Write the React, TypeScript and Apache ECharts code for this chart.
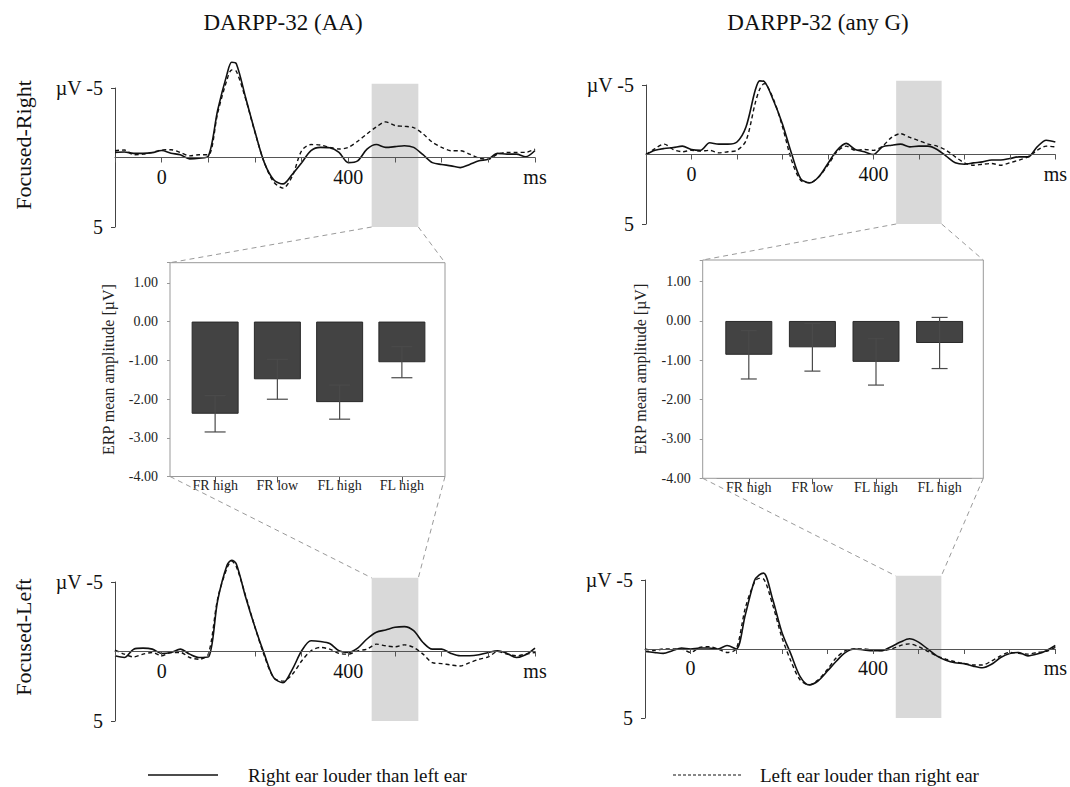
import React, { useEffect, useRef } from 'react';
import * as echarts from 'echarts';

const SERIF = "'Liberation Serif', 'Times New Roman', serif";

// time points (ms)
const TIME = [-100, -80, -60, -40, -20, 0, 20, 40, 60, 80, 100, 120, 140, 150, 160, 180, 200, 220, 240, 260, 280, 300, 320, 340, 360, 380, 400, 420, 440, 460, 480, 500, 520, 540, 560, 580, 600, 620, 640, 660, 680, 700, 720, 740, 760, 780, 800];

// DARPP-32 (AA), Focused-Right
const AA_FR_RIGHT_LOUDER = [-0.37, -0.4, -0.3, -0.3, -0.35, -0.5, -0.3, -0.2, 0.1, 0.05, -0.1, -3.4, -6.0, -6.85, -6.75, -4.3, -1.85, 0.37, 1.6, 1.9, 1.2, 0.37, -0.5, -0.73, -0.7, -0.37, 0.37, 0.24, -0.6, -0.93, -0.73, -0.78, -0.85, -0.73, -0.2, 0.37, 0.5, 0.6, 0.73, 0.5, 0.24, 0.12, -0.3, -0.24, -0.24, -0.05, -0.5];
const AA_FR_LEFT_LOUDER = [-0.49, -0.54, -0.2, -0.24, -0.37, -0.54, -0.56, -0.37, -0.12, -0.2, -0.2, -3.2, -5.6, -6.3, -6.2, -4.2, -1.8, 0.37, 1.76, 2.2, 1.34, -0.49, -0.93, -0.9, -0.73, -0.61, -0.73, -1.17, -1.7, -2.2, -2.56, -2.3, -2.24, -2.15, -1.7, -1.1, -0.73, -0.49, -0.49, -0.24, 0.05, 0.12, -0.24, -0.37, -0.37, -0.37, -0.61];

// DARPP-32 (any G), Focused-Right
const G_FR_RIGHT_LOUDER = [0, -0.3, -0.43, -0.5, -0.6, -0.36, -0.3, -0.84, -0.75, -0.75, -0.9, -2.0, -4.6, -5.3, -5.25, -3.9, -2.2, -0.07, 1.73, 2.04, 1.6, 0.65, -0.3, -0.8, -0.36, -0.2, 0, -0.55, -0.67, -0.75, -0.55, -0.6, -0.6, -0.36, 0.12, 0.6, 0.7, 0.6, 0.53, 0.4, 0.4, 0.29, 0.17, 0.17, -0.55, -1.03, -0.9];
const G_FR_LEFT_LOUDER = [0, -0.43, -0.75, -0.36, -0.2, -0.3, -0.24, -0.3, -0.12, -0.2, -0.3, -1.0, -3.68, -4.7, -5.1, -4.0, -2.0, 0.41, 1.85, 2.04, 1.6, 0.77, -0.2, -0.6, -0.3, -0.36, -0.3, -0.6, -1.23, -1.5, -1.23, -1.0, -0.75, -0.6, -0.3, 0.17, 0.6, 0.77, 0.7, 0.65, 0.77, 0.6, 0.4, 0.17, -0.3, -0.6, -0.55];

// DARPP-32 (AA), Focused-Left
const AA_FL_RIGHT_LOUDER = [0.31, 0.43, -0.17, -0.24, -0.17, 0.14, 0.07, -0.17, 0.19, 0.43, 0.39, -3.67, -6.2, -6.57, -6.3, -3.9, -1.74, 0.19, 1.88, 2.25, 1.28, -0.05, -0.77, -0.72, -0.58, -0.05, 0.07, -0.24, -0.9, -1.38, -1.55, -1.74, -1.79, -1.5, -0.65, -0.17, -0.17, 0.14, 0.31, 0.31, 0.24, 0.07, -0.05, 0.14, 0.43, 0.24, -0.24];
const AA_FL_LEFT_LOUDER = [-0.1, 0.19, 0.39, 0.19, 0.07, 0.31, 0.07, 0.07, 0.43, 0.56, 0.19, -3.8, -6.0, -6.5, -6.1, -4.0, -1.74, 0.31, 1.88, 2.13, 1.64, 0.68, -0.05, -0.29, -0.17, 0.14, 0.19, -0.05, -0.17, -0.53, -0.41, -0.34, -0.48, -0.29, 0.19, 0.8, 0.87, 0.97, 1.04, 0.8, 0.56, 0.39, 0, 0.19, 0.31, 0.19, 0.07];

// DARPP-32 (any G), Focused-Left
const G_FL_RIGHT_LOUDER = [0.17, 0.25, 0.32, 0.12, -0.07, 0, -0.07, -0.07, 0, -0.25, 0, -2.48, -4.95, -5.35, -5.5, -3.6, -1.24, 0.37, 1.98, 2.6, 2.3, 1.6, 0.87, 0.25, 0, 0.07, 0.12, 0.12, -0.17, -0.5, -0.74, -0.5, 0, 0.5, 0.82, 1.0, 1.06, 1.24, 1.36, 1.11, 0.62, 0.32, 0.25, 0.5, 0.37, 0.12, -0.25];
const G_FL_LEFT_LOUDER = [0, 0.12, 0, 0, 0, 0.25, -0.12, -0.17, 0, 0.25, 0, -2.97, -4.83, -5.12, -5.07, -3.2, -0.87, 0.87, 2.23, 2.6, 2.23, 1.48, 0.62, 0.12, 0, 0, 0.07, 0.12, 0, -0.25, -0.37, -0.17, 0.17, 0.5, 0.74, 0.92, 1.06, 1.16, 1.16, 0.87, 0.5, 0.25, 0.32, 0.37, 0.25, 0.17, -0.12];

// analysis window (ms) and its µV extent
const WINDOW = [450, 550];
const WINDOW_UV = [-5.3, 5];

// bar charts
const BAR_CATS = ['FR high', 'FR low', 'FL high', 'FL high'];
const AA_MEANS = [-2.38, -1.49, -2.08, -1.05];
const AA_ERR = [0.47, 0.515, 0.44, 0.4];
const G_MEANS = [-0.86, -0.67, -1.04, -0.56];
const G_ERR = [0.615, 0.605, 0.59, 0.65];

const TITLES = ['DARPP-32 (AA)', 'DARPP-32 (any G)'];
const ROWS = ['Focused-Right', 'Focused-Left'];
const LEGEND = ['Right ear louder than left ear', 'Left ear louder than right ear'];

export default function App() {
  const ref = useRef<HTMLDivElement>(null);

  useEffect(() => {
    document.body.style.margin = '0';
    const chart = echarts.init(ref.current as HTMLDivElement, null, { renderer: 'svg' });

    const erpGrids = [
      { left: 115, top: 88, width: 420, height: 139 },
      { left: 646, top: 85, width: 420, height: 139 },
      { left: 115, top: 582, width: 420, height: 139 },
      { left: 645, top: 580, width: 421, height: 138 },
    ];
    const barGrids = [
      { left: 184, top: 262.7, width: 249, height: 213.8 },
      { left: 717, top: 260, width: 254.4, height: 218.3 },
    ];
    const barMax = [1.52, 1.55];
    const boxX = [
      [170, 445],
      [702.7, 983.3],
    ];
    const capW = [21, 16];

    const panels = [
      [AA_FR_RIGHT_LOUDER, AA_FR_LEFT_LOUDER],
      [G_FR_RIGHT_LOUDER, G_FR_LEFT_LOUDER],
      [AA_FL_RIGHT_LOUDER, AA_FL_LEFT_LOUDER],
      [G_FL_RIGHT_LOUDER, G_FL_LEFT_LOUDER],
    ];

    const grid: any[] = [];
    const xAxis: any[] = [];
    const yAxis: any[] = [];
    const series: any[] = [];

    erpGrids.forEach((g, i) => {
      grid.push({ ...g, containLabel: false });
      // x axis sits on the 0 µV line (middle of the symmetric -5..5 range)
      xAxis.push({
        type: 'value', gridIndex: i, min: -100, max: 800, interval: 100, z: 5,
        position: 'bottom', offset: -g.height / 2,
        axisLine: { onZero: false, lineStyle: { color: '#555', width: 1 } },
        axisTick: { show: true, length: 5, lineStyle: { color: '#555' } },
        axisLabel: {
          formatter: (v: number) => (v === 0 ? '0' : v === 400 ? '400' : v === 800 ? 'ms' : ''),
          fontSize: 20, color: '#111', fontFamily: SERIF, margin: 9,
        },
        splitLine: { show: false },
      });
      yAxis.push({
        type: 'value', gridIndex: i, inverse: true, min: -5, max: 5, interval: 10,
        axisLine: { show: true, onZero: false, lineStyle: { color: '#444' } },
        axisTick: { show: true, length: 4, lineStyle: { color: '#444' } },
        axisLabel: {
          formatter: (v: number) => (v === -5 ? 'µV -5' : '5'),
          fontSize: 20, color: '#111', fontFamily: SERIF, margin: 12,
        },
        splitLine: { show: false },
      });
      panels[i].forEach((vals, k) => {
        series.push({
          type: 'line', xAxisIndex: i, yAxisIndex: i, silent: true, clip: false,
          data: TIME.map((t, j) => [t, vals[j]]),
          smooth: 0.3, showSymbol: false, z: 3,
          lineStyle: { color: '#111', width: k === 0 ? 1.6 : 1.4, type: k === 0 ? 'solid' : [4, 3] },
        });
      });
    });

    const barData = [
      [AA_MEANS, AA_ERR],
      [G_MEANS, G_ERR],
    ];
    barGrids.forEach((g, b) => {
      const gi = 4 + b;
      grid.push({ ...g, containLabel: false });
      xAxis.push({
        type: 'category', gridIndex: gi, data: BAR_CATS,
        axisLine: { onZero: false, lineStyle: { color: '#999' } },
        axisTick: { show: true, alignWithLabel: true, length: 6, lineStyle: { color: '#555' } },
        axisLabel: { fontSize: 14, color: '#222', fontFamily: SERIF, margin: 2 },
      });
      yAxis.push({
        type: 'value', gridIndex: gi, min: -4, max: barMax[b], interval: 1, offset: g.left - boxX[b][0],
        name: 'ERP mean amplitude [µV]', nameLocation: 'middle', nameRotate: 90, nameGap: 54,
        nameTextStyle: { fontSize: 16, color: '#222', fontFamily: SERIF },
        axisLine: { show: false },
        axisTick: { show: true, length: 3, lineStyle: { color: '#999' } },
        axisLabel: {
          formatter: (v: number) => (v > 1.01 ? '' : v.toFixed(2)),
          fontSize: 14, color: '#222', fontFamily: SERIF, margin: 12,
        },
        splitLine: { show: false },
      });
      const [means, errs] = barData[b];
      series.push({
        type: 'bar', xAxisIndex: gi, yAxisIndex: gi, data: means, barWidth: 47, silent: true,
        itemStyle: { color: '#434343', borderColor: '#2a2a2a', borderWidth: 1 },
      });
      const cw = capW[b];
      series.push({
        type: 'custom', xAxisIndex: gi, yAxisIndex: gi, silent: true, z: 4,
        data: means.map((m, i) => [i, m - errs[i], m + errs[i]]),
        encode: { x: 0, y: [1, 2] },
        renderItem: (params: any, api: any) => {
          const lo = api.coord([api.value(0), api.value(1)]);
          const hi = api.coord([api.value(0), api.value(2)]);
          const st = { stroke: '#4a4a4a', lineWidth: 1.2 };
          return {
            type: 'group',
            children: [
              { type: 'line', shape: { x1: lo[0], y1: lo[1], x2: hi[0], y2: hi[1] }, style: st },
              { type: 'line', shape: { x1: lo[0] - cw / 2, y1: lo[1], x2: lo[0] + cw / 2, y2: lo[1] }, style: st },
              { type: 'line', shape: { x1: hi[0] - cw / 2, y1: hi[1], x2: hi[0] + cw / 2, y2: hi[1] }, style: st },
            ],
          };
        },
      });
    });

    chart.setOption({
      animation: false,
      backgroundColor: '#ffffff',
      textStyle: { fontFamily: SERIF },
      grid, xAxis, yAxis, series,
    });

    const px = (gi: number, x: any, y: number) =>
      chart.convertToPixel({ xAxisIndex: gi, yAxisIndex: gi } as any, [x, y]) as number[];

    const graphic: any[] = [];
    const shades: any[] = [];
    for (let i = 0; i < 4; i++) {
      const tl = px(i, WINDOW[0], WINDOW_UV[0]);
      const br = px(i, WINDOW[1], WINDOW_UV[1]);
      shades.push({ tl, br });
      graphic.push({
        type: 'rect', silent: true, z: 1,
        shape: { x: tl[0], y: tl[1], width: br[0] - tl[0], height: br[1] - tl[1] },
        style: { fill: '#d9d9d9' },
      });
    }
    const dash = { stroke: '#9a9a9a', lineWidth: 1, lineDash: [5, 4] };
    for (let b = 0; b < 2; b++) {
      const gi = 4 + b;
      const top = px(gi, 0, barMax[b])[1];
      const bot = px(gi, 0, -4)[1];
      const [x0, x1] = boxX[b];
      graphic.push({
        type: 'rect', silent: true, z: 2,
        shape: { x: x0, y: top, width: x1 - x0, height: bot - top },
        style: { fill: 'none', stroke: '#999', lineWidth: 1 },
      });
      const up = shades[b];
      const dn = shades[b + 2];
      graphic.push(
        { type: 'line', silent: true, z: 2, shape: { x1: up.tl[0], y1: up.br[1], x2: x0, y2: top }, style: dash },
        { type: 'line', silent: true, z: 2, shape: { x1: up.br[0], y1: up.br[1], x2: x1, y2: top }, style: dash },
        { type: 'line', silent: true, z: 2, shape: { x1: x0, y1: bot, x2: dn.tl[0], y2: dn.tl[1] }, style: dash },
        { type: 'line', silent: true, z: 2, shape: { x1: x1, y1: bot, x2: dn.br[0], y2: dn.tl[1] }, style: dash },
      );
    }

    // titles
    const titleX = [283, 818];
    TITLES.forEach((t, i) => {
      graphic.push({
        type: 'text', x: titleX[i], y: 22, silent: true,
        style: { text: t, fill: '#111', font: `23px ${SERIF}`, align: 'center', verticalAlign: 'middle' },
      });
    });
    // row labels
    const rowY = [145, 637];
    ROWS.forEach((t, i) => {
      graphic.push({
        type: 'text', x: 23, y: rowY[i], rotation: Math.PI / 2, silent: true,
        style: { text: t, fill: '#111', font: `22px ${SERIF}`, align: 'center', verticalAlign: 'middle' },
      });
    });
    // legend
    graphic.push(
      { type: 'line', silent: true, shape: { x1: 148, y1: 775, x2: 218, y2: 775 }, style: { stroke: '#111', lineWidth: 1.6 } },
      { type: 'text', x: 248, y: 775, silent: true, style: { text: LEGEND[0], fill: '#111', font: `19px ${SERIF}`, align: 'left', verticalAlign: 'middle' } },
      { type: 'line', silent: true, shape: { x1: 673, y1: 775, x2: 742, y2: 775 }, style: { stroke: '#111', lineWidth: 1.2, lineDash: [3, 2] } },
      { type: 'text', x: 760, y: 775, silent: true, style: { text: LEGEND[1], fill: '#111', font: `19px ${SERIF}`, align: 'left', verticalAlign: 'middle' } },
    );

    chart.setOption({ graphic });

    return () => chart.dispose();
  }, []);

  return <div ref={ref} style={{ width: 1070, height: 787 }} />;
}
